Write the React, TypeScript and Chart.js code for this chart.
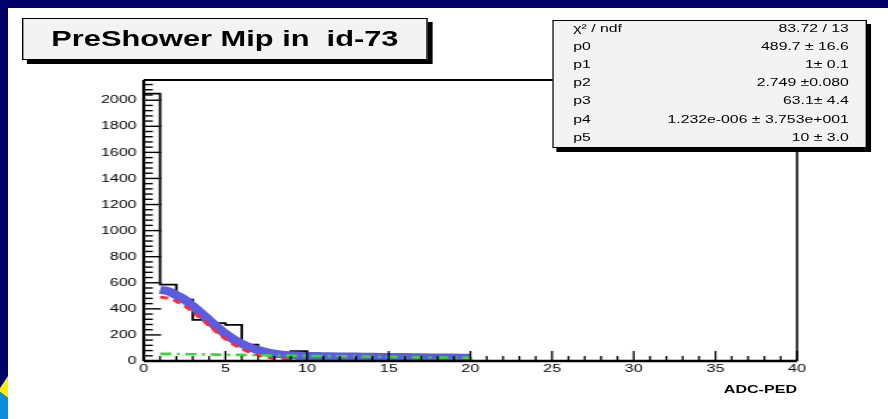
import { useEffect, useRef } from 'react';
import { Chart, registerables } from 'chart.js';

Chart.register(...registerables);

// ---- histogram: ADC-PED spectrum, 1-unit bins starting at 0 ----
const binEdges = [0, 1, 2, 3, 4, 5, 6, 7, 8, 9, 10, 11, 12, 13, 14, 15, 16, 17, 18, 19, 20, 40];
const binCounts = [2050, 585, 470, 315, 290, 277, 125, 60, 40, 75, 32, 28, 30, 24, 26, 22, 24, 20, 18, 20, 0, 0];

// ---- fit curves sampled over the fit range 1..20 ----
const fitX = [1, 1.5, 2, 2.5, 3, 3.5, 4, 4.5, 5, 5.5, 6, 6.5, 7, 7.5, 8, 8.5, 9, 10, 11, 12, 13, 14, 15, 16, 17, 18, 19, 20];
const fitTotal = [545, 535, 505, 470, 420, 367, 312, 258, 208, 166, 132, 104, 84, 68, 57, 49, 44, 39, 37, 35, 34, 32, 31, 30, 28, 27, 26, 25];
const fitGauss = [490, 482, 458, 422, 376, 325, 271, 218, 170, 128, 94, 66, 45, 30, 19, 12, 7, 2, 1, 0, 0, 0, 0, 0, 0, 0, 0, 0];
const fitTail = [55, 55, 54, 53, 52, 51, 50, 49, 48, 47, 47, 46, 45, 44, 43, 42, 41, 39, 38, 36, 35, 33, 32, 31, 29, 28, 27, 26];

// ---- axes ----
const X_MIN = 0;
const X_MAX = 40;
const X_MAJOR = 5;
const X_MINOR = 1;
const Y_MIN = 0;
const Y_MAX = 2155;
const Y_MAJOR = 200;
const Y_MINOR = 40;

// ---- text ----
const titleText = 'PreShower Mip in  id-73';
const axisTitle = 'ADC-PED';
const statNames = ['χ² / ndf', 'p0', 'p1', 'p2', 'p3', 'p4', 'p5'];
const statValues = ['83.72 / 13', '489.7 ± 16.6', '1± 0.1', '2.749 ±0.080', '63.1± 4.4', '1.232e-006 ± 3.753e+001', '10 ± 3.0'];

const FONT = "'Liberation Sans', Arial, Helvetica, sans-serif";
const NAVY = '#000068';
const INNER_W = 629;
const INNER_H = 411;
const STRETCH = 880 / INNER_W;

const framePlugin = {
  id: 'rootFrame',
  afterDraw(chart: any) {
    const { ctx, chartArea: a, scales } = chart;
    const xs = scales.x;
    const ys = scales.y;
    ctx.save();
    ctx.strokeStyle = '#000';
    // y ticks, pointing into the frame
    ctx.lineWidth = 1.4;
    for (let v = Y_MIN; v <= Y_MAX; v += Y_MINOR) {
      const py = ys.getPixelForValue(v);
      const len = v % Y_MAJOR === 0 ? 12.5 : 6.5;
      ctx.beginPath();
      ctx.moveTo(a.left, py);
      ctx.lineTo(a.left + len, py);
      ctx.stroke();
    }
    // x ticks, pointing up
    ctx.lineWidth = 1.3;
    for (let v = X_MIN; v <= X_MAX; v += X_MINOR) {
      const px = xs.getPixelForValue(v);
      const len = v % X_MAJOR === 0 ? 10 : 5;
      ctx.beginPath();
      ctx.moveTo(px, a.bottom);
      ctx.lineTo(px, a.bottom - len);
      ctx.stroke();
    }
    // frame
    ctx.lineWidth = 2;
    ctx.beginPath();
    ctx.moveTo(a.left, a.top);
    ctx.lineTo(a.right, a.top);
    ctx.stroke();
    ctx.lineWidth = 1.5;
    ctx.beginPath();
    ctx.moveTo(a.right, a.top);
    ctx.lineTo(a.right, a.bottom);
    ctx.stroke();
    ctx.lineWidth = 2.2;
    ctx.beginPath();
    ctx.moveTo(a.left, a.top);
    ctx.lineTo(a.left, a.bottom);
    ctx.stroke();
    ctx.lineWidth = 2.6;
    ctx.beginPath();
    ctx.moveTo(a.left, a.bottom);
    ctx.lineTo(a.right, a.bottom);
    ctx.stroke();
    ctx.restore();
  },
};

export default function App() {
  const canvasRef = useRef<HTMLCanvasElement>(null);

  useEffect(() => {
    const canvas = canvasRef.current;
    if (!canvas) return;
    const histPoints = [{ x: binEdges[0], y: 0 }, ...binEdges.map((x, i) => ({ x, y: binCounts[i] }))];
    const curve = (vals: number[]) => fitX.map((x, i) => ({ x, y: vals[i] }));
    const chart = new Chart(canvas, {
      type: 'line',
      data: {
        datasets: [
          {
            label: 'tail',
            data: curve(fitTail),
            borderColor: '#2fdc2f',
            borderWidth: 2.6,
            borderDash: [8, 4, 2, 4],
            pointRadius: 0,
            cubicInterpolationMode: 'monotone',
            fill: false,
            order: 0,
          },
          {
            label: 'gauss',
            data: curve(fitGauss),
            borderColor: '#ff2a2a',
            borderWidth: 2.8,
            borderDash: [6, 4],
            pointRadius: 0,
            cubicInterpolationMode: 'monotone',
            fill: false,
            order: 1,
          },
          {
            label: 'total',
            data: curve(fitTotal),
            borderColor: '#5c5ce0',
            borderWidth: 8,
            pointRadius: 0,
            cubicInterpolationMode: 'monotone',
            fill: false,
            order: 2,
          },
          {
            label: 'hist',
            data: histPoints,
            borderColor: '#000',
            borderWidth: 1.8,
            pointRadius: 0,
            stepped: 'before',
            fill: false,
            order: 3,
          },
        ],
      },
      options: {
        responsive: false,
        animation: false,
        events: [],
        layout: { padding: { top: 72, right: 65, left: 0, bottom: 0 } },
        plugins: { legend: { display: false }, tooltip: { enabled: false }, title: { display: false } },
        scales: {
          x: {
            type: 'linear',
            min: X_MIN,
            max: X_MAX,
            afterFit: (s: any) => {
              s.height = 58;
            },
            grid: { display: false, drawTicks: false },
            border: { display: false },
            ticks: {
              stepSize: X_MAJOR,
              autoSkip: false,
              maxRotation: 0,
              padding: 1,
              color: '#000',
              font: { family: FONT, size: 11.5 },
              callback: (v: any) => String(v),
            },
          },
          y: {
            type: 'linear',
            min: Y_MIN,
            max: Y_MAX,
            afterFit: (s: any) => {
              s.width = 97;
            },
            afterBuildTicks: (s: any) => {
              s.ticks = s.ticks.filter((t: any) => t.value % Y_MAJOR === 0);
            },
            grid: { display: false, drawTicks: false },
            border: { display: false },
            ticks: {
              stepSize: Y_MAJOR,
              autoSkip: false,
              padding: 5,
              color: '#000',
              font: { family: FONT, size: 11.5 },
              callback: (v: any) => String(v),
            },
          },
        },
      },
      plugins: [framePlugin],
    } as any);
    return () => chart.destroy();
  }, []);

  const boxStyle = {
    position: 'absolute' as const,
    background: '#f3f3f3',
    border: '1.5px solid #000',
    boxSizing: 'border-box' as const,
  };

  return (
    <div
      style={{
        position: 'fixed',
        left: 0,
        top: 0,
        width: 888,
        height: 419,
        background: NAVY,
        overflow: 'hidden',
        fontFamily: FONT,
      }}
    >
      <svg width={8} height={419} style={{ position: 'absolute', left: 0, top: 0 }}>
        <polygon points="0,388 8,376 8,398 0,392" fill="#ffee00" />
        <polygon points="0,392 8,398 8,419 0,419" fill="#0a8fe0" />
      </svg>
      <div
        style={{
          position: 'absolute',
          left: 8,
          top: 8,
          width: 880,
          height: 411,
          background: '#fff',
          overflow: 'hidden',
        }}
      >
        <div
          style={{
            position: 'absolute',
            left: 0,
            top: 0,
            width: INNER_W,
            height: INNER_H,
            transform: `scaleX(${STRETCH})`,
            transformOrigin: '0 0',
          }}
        >
          <canvas
            ref={canvasRef}
            width={INNER_W}
            height={INNER_H}
            style={{ position: 'absolute', left: 0, top: 0, width: INNER_W, height: INNER_H }}
          />
          {/* title box */}
          <div
            style={{
              ...boxStyle,
              left: 10,
              top: 10,
              width: 290,
              height: 42,
              boxShadow: '3.5px 4px 0 #000',
              display: 'flex',
              alignItems: 'center',
              justifyContent: 'center',
              fontWeight: 'bold',
              fontSize: 22,
              color: '#000',
              whiteSpace: 'pre',
            }}
          >
            {titleText}
          </div>
          {/* fit statistics box */}
          <div
            style={{
              ...boxStyle,
              left: 389,
              top: 12,
              width: 225,
              height: 128,
              boxShadow: '3px 4px 0 #000',
              overflow: 'visible',
            }}
          >
            {statNames.map((name, i) => (
              <div
                key={name}
                style={{
                  position: 'absolute',
                  left: 14,
                  right: 12,
                  top: 1 + i * 18.1,
                  height: 13,
                  lineHeight: '13px',
                  fontSize: 11.3,
                  color: '#000',
                  display: 'flex',
                  justifyContent: 'space-between',
                  whiteSpace: 'pre',
                }}
              >
                <span>{name}</span>
                <span>{statValues[i]}</span>
              </div>
            ))}
          </div>
          {/* x axis title */}
          <div
            style={{
              position: 'absolute',
              left: 0,
              width: 564,
              top: 375,
              lineHeight: '13px',
              textAlign: 'right',
              fontWeight: 'bold',
              fontSize: 11.5,
              color: '#000',
            }}
          >
            {axisTitle}
          </div>
        </div>
      </div>
    </div>
  );
}
